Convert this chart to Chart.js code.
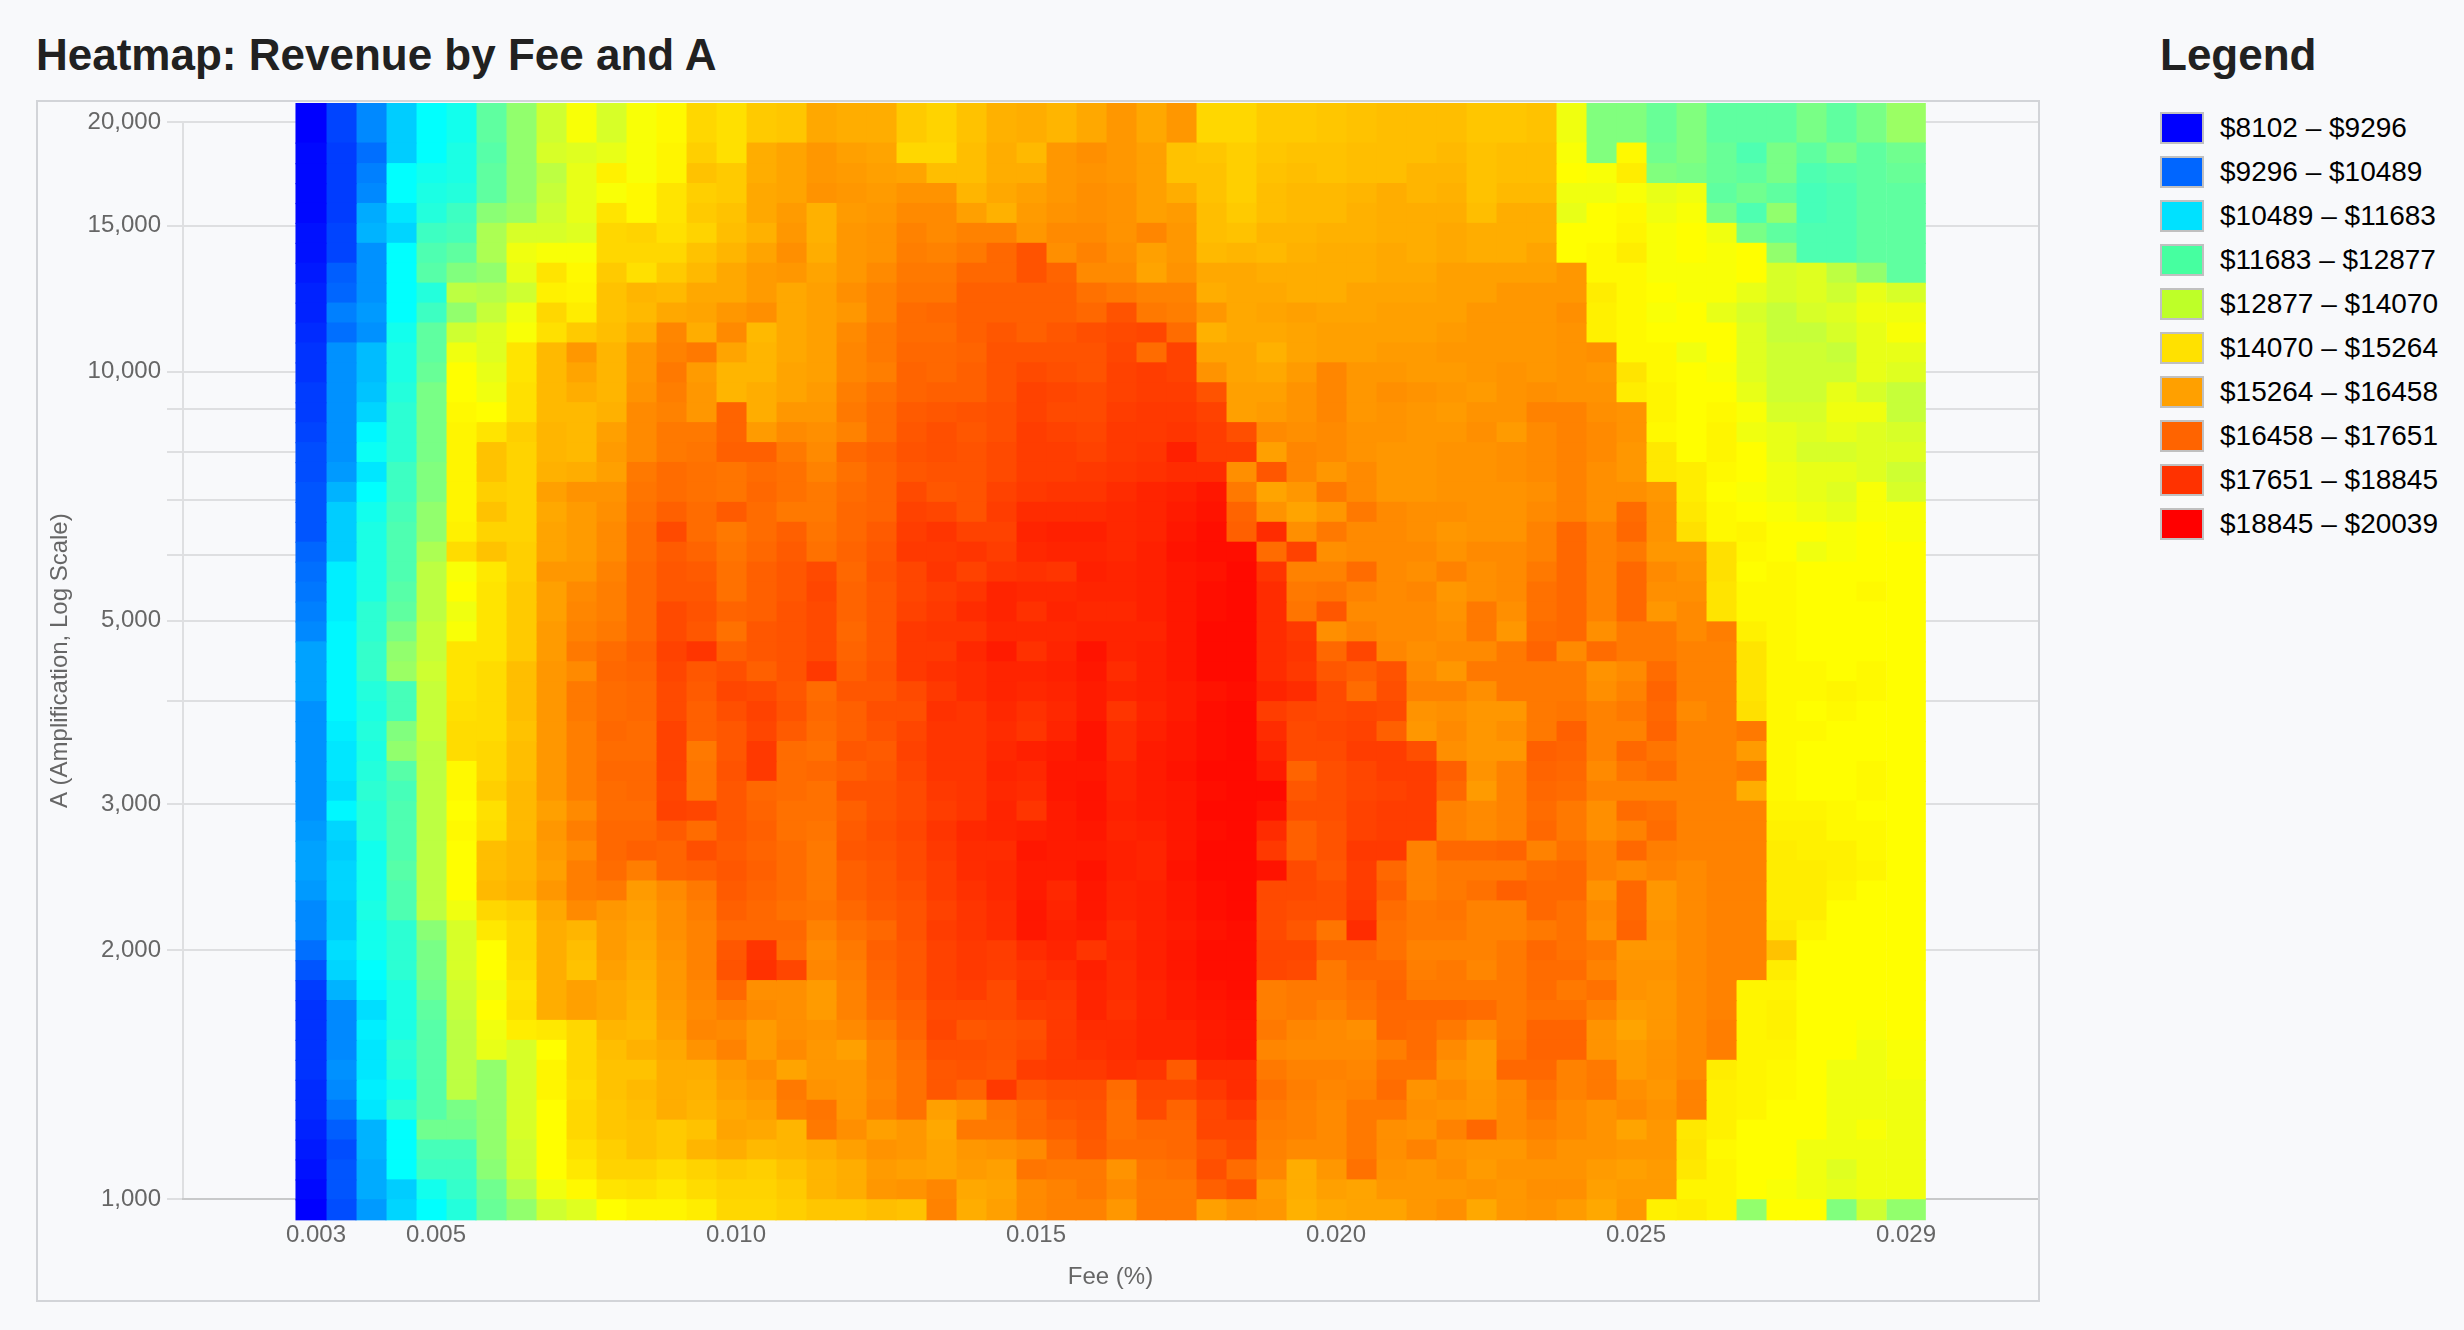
<!DOCTYPE html>
<html>
<head>
<meta charset="utf-8">
<title>Heatmap: Revenue by Fee and A</title>
<script src="https://cdn.jsdelivr.net/npm/chart.js@4"></script>
<style>
  html, body { margin: 0; padding: 0; background: #f8f9fb; font-family: "Liberation Sans", Arial, sans-serif; }
  body { position: relative; width: 2464px; height: 1330px; overflow: hidden; }
  h2 { position: absolute; margin: 0; font-size: 44px; line-height: 50px; font-weight: bold; color: #212121; }
  #title { left: 36px; top: 30px; }
  #legendTitle { left: 2160px; top: 30px; }
  #box { position: absolute; left: 36px; top: 100px; width: 2000px; height: 1198px; border: 2px solid #d2d4d8; }
  #chart { position: absolute; left: 0; top: 0; }
  #legend { position: absolute; left: 2160px; top: 112px; }
  .item { display: flex; align-items: flex-start; height: 44px; font-size: 28px; line-height: 32px; color: #000; white-space: nowrap; }
  .swatch { box-sizing: border-box; width: 44px; height: 32px; border: 2px solid #c0c0c0; margin-right: 16px; }
</style>
</head>
<body>
<h2 id="title">Heatmap: Revenue by Fee and A</h2>
<div id="box"><canvas id="chart" width="2000" height="1198"></canvas></div>
<h2 id="legendTitle">Legend</h2>
<div id="legend"></div>

<script>
// Fee of each column
const fees = [
  0.003, 0.0035, 0.004, 0.0045, 0.005, 0.0055, 0.006, 0.0065, 0.007, 0.0075,
  0.008, 0.0085, 0.009, 0.0095, 0.01, 0.0105, 0.011, 0.0115, 0.012, 0.0125,
  0.013, 0.0135, 0.014, 0.0145, 0.015, 0.0155, 0.016, 0.0165, 0.017, 0.0175,
  0.018, 0.0185, 0.019, 0.0195, 0.02, 0.0205, 0.021, 0.0215, 0.022, 0.0225,
  0.023, 0.0235, 0.024, 0.0245, 0.025, 0.0255, 0.026, 0.0265, 0.027, 0.0275,
  0.028, 0.0285, 0.029, 0.0295
];

// A of each row, top to bottom. The picture has about twice as many rows,
// here each row stands for two of them.
const aValues = [
  20000, 18890, 17871, 16907, 15995, 15132, 14316, 13544, 12813, 12122, 11468,
  10850, 10265, 9711, 9187, 8691, 8223, 7779, 7359, 6962, 6587, 6232, 5895,
  5577, 5277, 4992, 4723, 4468, 4227, 3999, 3783, 3579, 3386, 3204, 3031, 2867,
  2713, 2566, 2428, 2297, 2173, 2056, 1945, 1840, 1741, 1647, 1558, 1474, 1394,
  1319, 1248, 1181, 1117, 1057, 1000
];

// Revenue in hundreds of dollars.
// One line per fee column, top row first.
const revenue = [
  [81, 82,82,82,82,83,83,84,85,85,86,87,87,88,88,89,90,90,91,91,91,93,94,95,96,97,100, 100,100,98,98,98,98,98,98,99,100,100,99,97,97,94,91,88,87,87,87,87,86,86,85,84,83,82,81],
  [89, 88,88,88,88,89,89,92,93,96,94,98,98,98,98,98,98,99,102,105,105,105,109,109,109,110,110, 110,110,110,109,108,108,107,110,106,105,106,106,105,105,107,106,102,97,97,97,98,97,95,92,90,91,91,90],
  [97, 94,96,97,101,102,98,98,98,99,98,103,103,104,106,110,112,108,111,113,114,114,114,114,116,116,117, 117,115,114,115,114,115,116,115,115,113,113,113,114,113,113,111,110,107,109,108,108,109,108,102,102,101,101,99],
  [105, 105,111,111,108,106,111,111,111,111,113,114,114,115,116,116,116,118,118,119,120,120,120,121,122,125,128, 129,119,119,126,128,121,119,120,120,120,121,120,120,116,116,116,114,114,114,116,115,113,116,111,111,111,105,106],
  [111, 111,113,114,115,118,120,121,115,118,122,122,123,125,125,125,125,126,126,128,128,131,133,133,133,134,134, 135,134,134,134,133,133,133,133,133,133,133,133,133,127,125,125,124,122,121,121,121,121,121,124,119,118,113,111],
  [113, 114,114,115,118,119,122,126,133,128,135,139,141,141,142,143,143,143,143,143,144,149,140,141,139,140,147, 147,147,148,149,149,142,142,141,142,141,141,141,139,136,136,136,135,134,133,133,133,133,125,124,119,118,117,115],
  [122, 121,122,122,127,131,131,128,132,134,137,137,138,139,141,147,155,155,152,155,151,155,146,147,147,147,147, 149,149,149,149,150,150,152,148,149,156,156,157,150,146,141,141,139,141,139,138,128,128,128,128,128,127,124,123],
  [128, 128,128,128,129,136,139,138,135,139,140,147,147,148,148,152,151,151,151,151,151,152,152,153,153,153,153, 156,156,156,155,156,156,157,157,157,158,158,159,152,150,150,149,147,148,145,136,136,136,136,136,135,135,132,128],
  [135, 136,133,134,135,136,140,147,144,150,148,157,157,157,157,158,158,159,163,161,162,162,165,163,163,164,164, 165,165,165,165,165,165,165,163,165,164,163,165,161,160,160,160,160,160,146,141,143,143,141,141,141,141,139,135],
  [140, 137,138,138,138,137,140,142,143,145,153,165,162,160,157,157,157,160,166,164,164,164,165,168,169,170,172, 168,172,172,171,171,171,171,168,171,168,171,171,168,158,156,155,163,163,150,150,150,149,150,150,148,146,142,137],
  [136, 138,144,140,147,150,150,153,155,155,156,158,158,158,159,163,164,163,166,167,168,168,170,171,171,172,175, 176,175,175,176,175,176,175,175,176,176,175,172,165,164,164,163,161,161,158,156,155,155,154,154,152,151,147,141],
  [140, 140,140,142,142,151,150,148,158,157,160,165,165,166,168,168,168,172,173,174,175,175,176,176,176,176,178, 177,176,176,175,175,176,176,175,176,178,171,164,163,162,161,160,159,158,157,159,155,157,156,155,155,151,148,143],
  [142, 143,143,147,147,148,150,153,157,161,169,170,172,171,170,172,172,175,175,178,183,179,180,180,183,183,185, 184,183,183,185,185,185,184,185,179,177,177,168,167,167,166,165,165,164,163,161,160,160,160,153,153,149,146,143],
  [150, 152,155,152,153,151,155,157,161,162,160,172,164,165,165,172,173,174,174,175,175,177,179,180,181,180,188, 180,179,178,178,172,173,173,184,175,182,178,172,171,170,170,170,169,168,169,166,160,159,158,155,158,151,149,145],
  [148, 148,153,153,155,156,158,161,161,165,168,162,158,158,177,177,178,173,173,179,172,173,174,174,177,174,178, 182,184,182,180,180,181,180,180,180,179,180,179,178,176,180,181,176,171,168,170,164,163,161,162,160,153,151,150],
  [153, 160,160,161,161,159,162,164,164,167,157,158,158,160,160,164,178,175,176,175,175,176,178,178,178,180,180, 178,183,185,184,187,187,176,177,178,177,178,177,176,176,188,189,167,168,164,164,167,165,163,161,157,152,151,150],
  [154, 162,162,162,164,165,167,165,161,161,161,161,162,162,165,168,172,174,174,172,178,179,180,180,181,181,181, 181,180,181,179,175,175,175,174,174,175,175,175,174,176,175,184,167,167,167,168,162,172,171,158,158,155,153,152],
  [161, 165,165,166,159,159,160,162,163,163,163,163,163,164,165,167,168,170,172,172,173,174,183,184,183,183,183, 187,175,176,175,174,176,174,174,173,172,172,172,173,170,168,169,164,164,166,165,165,166,173,172,160,158,158,154],
  [160, 163,164,165,164,165,165,165,167,165,168,169,169,171,172,170,176,174,175,176,176,177,176,177,177,176,177, 178,180,178,178,180,178,181,178,179,180,178,178,176,174,172,171,170,170,168,163,165,165,165,167,163,160,160,154],
  [160, 162,163,164,165,166,166,168,170,170,172,172,171,174,175,175,178,177,177,177,179,180,181,180,180,180,180, 181,180,182,181,179,180,181,181,182,181,180,180,179,176,178,177,176,175,172,170,170,169,170,163,166,164,165,156],
  [153, 150,162,166,168,170,171,172,173,175,175,176,177,177,179,180,181,180,183,185,186,187,184,184,185,187,187, 187,183,182,184,185,184,183,183,184,183,183,182,181,181,180,180,180,178,177,175,174,174,174,165,165,163,166,155],
  [151, 150,156,166,168,168,170,172,173,176,175,176,176,178,180,182,182,181,180,184,188,187,188,186,187,188,187, 189,187,189,188,188,188,187,186,188,187,186,186,185,186,185,185,185,183,184,182,180,180,163,161,162,162,169,170],
  [155, 156,156,158,163,170,172,176,178,178,178,177,178,178,181,180,181,181,181,181,185,188,185,188,190,188,191, 190,190,188,188,188,188,188,188,191,190,190,189,188,188,187,187,186,183,180,182,181,177,166,172,165,164,161,160],
  [159, 160,160,161,159,170,176,176,178,178,180,181,181,181,182,182,183,183,185,186,185,186,188,192,192,191,194, 192,192,191,190,191,192,191,192,192,190,191,191,190,190,186,186,183,183,181,181,180,187,173,172,166,163,162,163],
  [160, 157,160,163,164,165,181,181,178,178,178,181,183,185,185,186,186,186,187,190,192,191,189,191,189,191,189, 192,191,189,188,193,191,190,188,193,195,194,194,195,195,190,188,189,186,182,183,186,180,176,176,168,173,168,168],
  [158, 165,165,165,166,168,167,177,178,178,180,181,182,184,183,185,186,186,188,190,193,192,188,191,192,191,192, 193,192,191,192,194,195,195,194,194,194,194,191,192,193,192,190,188,187,187,187,187,182,180,178,175,172,170,170],
  [161, 167,166,167,167,168,170,168,174,176,182,181,181,183,183,184,185,187,188,190,193,192,193,192,191,192,196, 195,194,194,196,196,195,196,196,195,194,196,195,195,194,188,193,192,192,190,189,187,182,181,180,179,172,172,170],
  [165, 165,165,166,166,166,167,168,172,181,183,184,185,185,186,187,187,188,190,191,191,191,192,192,191,192,192, 190,192,188,190,190,192,192,193,192,193,193,192,192,190,191,190,190,189,190,190,189,175,174,174,175,166,168,165],
  [161, 163,163,163,163,169,163,162,170,172,184,175,186,186,187,187,188,189,192,192,192,193,193,193,193,192,193, 193,193,192,193,194,194,194,194,193,192,192,193,193,193,193,193,192,192,192,192,188,184,183,176,175,173,172,172],
  [165, 155,155,160,164,165,165,166,170,171,175,185,185,186,187,188,193,190,193,194,195,196,195,195,195,195,195, 195,194,194,195,195,196,195,195,195,195,196,195,195,194,195,195,194,194,192,192,179,184,177,176,176,174,172,172],
  [150, 154,155,155,156,156,157,161,160,165,159,162,166,181,185,186,186,190,195,196,197,197,196,197,197,198,198, 198,196,197,197,197,198,197,198,197,198,198,197,197,196,197,197,196,195,194,194,190,187,184,184,180,182,178,163],
  [150, 152,152,152,153,155,158,161,161,161,161,162,162,163,163,182,186,167,172,177,178,197,198,198,198,198,198, 198,197,198,198,198,198,198,198,198,198,198,198,198,197,197,197,197,196,195,195,190,190,187,184,183,175,181,166],
  [153, 154,155,156,156,158,157,160,161,162,161,159,161,163,164,168,163,180,162,166,190,175,188,190,190,190,190, 190,192,186,190,192,194,198,196,190,187,196,183,183,183,184,184,171,171,172,169,172,174,172,171,170,169,164,165],
  [153, 155,156,157,157,158,159,160,160,163,162,162,164,166,166,167,169,169,165,162,167,185,170,172,173,187,188, 187,190,184,183,183,177,180,182,178,178,183,183,182,180,184,183,172,172,169,168,170,171,170,170,168,160,160,159],
  [154, 155,155,157,157,159,160,160,160,162,163,163,169,169,169,168,168,165,172,165,172,167,170,173,180,167,176, 180,183,183,184,183,182,182,182,181,181,180,182,182,173,177,172,172,170,168,168,170,169,168,168,168,165,163,161],
  [155, 156,156,158,159,159,160,160,162,162,163,163,165,165,165,166,166,168,168,172,168,168,175,170,168,170,184, 178,175,184,185,186,184,184,185,185,187,186,186,187,190,177,176,174,173,167,168,169,170,172,172,172,174,162,162],
  [156, 156,156,160,160,160,161,161,162,163,163,164,165,167,166,166,165,165,165,168,168,168,168,168,168,168,169, 181,182,183,178,186,186,185,186,186,187,176,178,175,174,174,176,177,176,176,171,174,175,172,167,167,166,165,162],
  [156, 156,158,158,160,160,160,161,162,163,163,164,164,166,165,165,165,165,165,167,167,168,167,169,168,168,167, 168,170,166,165,182,186,186,186,186,170,170,170,172,172,170,171,172,176,175,175,174,166,167,166,170,165,165,165],
  [156, 157,158,159,160,161,161,163,163,163,164,165,164,165,164,165,166,166,166,167,165,166,170,165,166,167,168, 165,170,167,168,167,178,176,170,170,176,172,172,173,172,170,172,172,176,172,168,166,168,166,170,166,167,165,167],
  [154, 155,155,155,156,160,160,163,163,165,165,165,165,164,166,167,166,166,166,166,166,168,167,167,172,172,168, 172,167,165,165,165,166,164,168,168,176,172,174,170,170,170,169,172,175,168,164,164,165,165,176,165,164,166,161],
  [154, 156,156,157,160,160,160,163,165,165,165,165,166,166,166,164,167,167,166,166,166,168,168,168,167,165,172, 172,172,165,167,165,170,170,170,170,177,172,178,170,170,172,172,172,172,172,173,176,168,168,168,165,166,165,165],
  [155, 156,156,157,160,160,162,163,165,165,165,165,165,167,170,168,168,168,167,168,170,170,172,174,174,175,177, 172,172,172,172,178,177,176,175,176,170,175,176,176,172,176,175,175,174,177,177,176,174,172,170,168,166,167,166],
  [139, 140,141,139,138,141,141,165,165,167,166,166,166,166,170,170,170,170,170,170,176,176,176,176,176,176,168, 172,172,173,178,177,176,175,172,172,174,176,176,174,174,174,175,172,174,177,177,170,170,168,168,166,166,167,164],
  [126, 126,140,139,141,141,142,142,145,144,144,167,165,166,167,168,168,167,167,167,170,170,170,170,170,167,175, 166,167,170,170,170,168,170,167,167,170,170,166,168,167,172,170,174,170,166,166,172,172,166,166,166,164,163,161],
  [126, 142,145,140,142,143,145,142,142,142,142,142,147,145,166,166,165,165,167,175,176,172,176,176,176,172,172, 168,170,172,170,176,173,170,175,170,176,168,176,176,177,165,166,166,164,162,164,164,167,168,162,165,163,164,165],
  [123, 124,126,138,139,140,140,140,141,140,141,142,142,143,143,142,146,146,165,166,166,165,168,167,165,172,172, 175,177,176,177,173,175,170,174,175,171,170,165,165,166,165,166,165,165,165,166,166,165,166,165,165,164,164,144],
  [126, 126,125,139,140,141,141,140,140,141,141,139,141,141,141,141,141,145,145,146,148,165,166,167,168,168,170, 170,170,168,170,170,170,170,170,170,170,168,168,168,168,168,168,168,168,168,168,168,170,170,146,147,146,143,145],
  [122, 123,123,122,125,139,140,140,140,138,141,141,140,141,142,143,143,142,141,142,142,148,148,147,147,171,170, 170,170,170,170,170,170,170,170,170,170,170,170,170,170,170,170,170,170,171,171,145,144,144,144,142,143,143,143],
  [122, 120,122,124,120,125,141,141,138,136,137,137,137,138,140,139,141,141,140,141,143,142,141,142,142,144,147, 147,147,148,172,164,172,160,170,170,170,170,170,170,170,170,170,143,143,143,143,143,143,143,141,141,141,141,128],
  [122, 125,125,122,128,122,128,136,136,134,134,135,135,135,136,138,138,139,139,140,141,141,142,142,142,142,142, 142,142,142,142,142,142,142,143,144,145,145,145,145,146,155,145,143,144,144,143,142,142,141,141,141,141,140,141],
  [125, 122,120,119,119,120,120,137,137,136,134,135,135,135,136,137,136,138,138,139,141,139,141,141,141,141,141, 142,142,141,142,141,141,141,143,144,144,145,145,145,143,141,141,141,141,141,141,141,141,141,141,139,139,139,141],
  [122, 125,121,120,120,120,120,133,135,137,136,134,135,138,139,138,136,138,137,138,140,140,141,141,141,141,141, 141,143,142,141,141,141,141,142,142,144,144,143,141,141,141,141,141,141,141,141,139,139,139,139,139,137,138,126],
  [125, 122,122,122,122,122,122,128,138,139,138,138,138,136,139,137,137,137,140,140,141,141,141,142,141,141,141, 142,142,141,141,141,142,142,141,142,142,143,141,141,141,141,141,141,141,140,139,139,139,139,140,139,139,139,135],
  [129, 124,123,122,122,122,122,122,136,139,140,138,137,134,134,136,137,135,136,140,140,141,141,141,141,141,141, 141,141,141,141,141,141,141,141,141,141,141,141,141,141,141,141,141,141,141,140,140,139,139,139,139,139,139,128]
];

// Ticks on the x axis. The last column is labelled 0.029 in the picture.
const xTickValues = [0.003, 0.005, 0.01, 0.015, 0.02, 0.025, 0.0295];
const xTickLabels = ["0.003", "0.005", "0.010", "0.015", "0.020", "0.025", "0.029"];

// Legend
const legendLabels = [
  "$8102 – $9296", "$9296 – $10489", "$10489 – $11683", "$11683 – $12877", "$12877 – $14070",
  "$14070 – $15264", "$15264 – $16458", "$16458 – $17651", "$17651 – $18845", "$18845 – $20039"
];
const legendColors = [
  "#0000ff", "#0066ff", "#00e1ff", "#46ffa0", "#beff28",
  "#ffe100", "#ffa000", "#ff6400", "#ff3200", "#ff0000"
];

const revenueMin = 8102;
const revenueMax = 20039;

// Blue to cyan to yellow to red
function heatColor(hundreds) {
  const t = Math.min(1, Math.max(0, (hundreds * 100 - revenueMin) / (revenueMax - revenueMin)));
  let r, g, b;
  if (t < 0.25) {
    r = 0; g = t / 0.25; b = 1;
  } else if (t < 0.5) {
    r = (t - 0.25) / 0.25; g = 1; b = 1 - r;
  } else {
    r = 1; g = 1 - (t - 0.5) / 0.5; b = 0;
  }
  return `rgb(${Math.round(r * 255)},${Math.round(g * 255)},${Math.round(b * 255)})`;
}

// Cells sit a little below and left of their tick in the picture
const rowShift = 0.9432;
const rowOverlap = 1.0015;
const topEdge = 21086;
const columnShift = 0.0000833;

function rowRange(r) {
  const low = aValues[r] * rowShift;
  const high = r === 0 ? topEdge : aValues[r - 1] * rowShift * rowOverlap;
  return [low, high];
}

const datasets = fees.map((fee, c) => {
  const last = c === fees.length - 1;
  return {
    label: String(fee),
    data: aValues.map((a, r) => ({ x: last ? fee : fee - columnShift, y: rowRange(r) })),
    backgroundColor: revenue[c].map(heatColor),
    barThickness: last ? 39 : 30.4,
    borderWidth: 0,
    grouped: false,
    clip: false
  };
});

const tickFont = { family: "Liberation Sans", size: 24 };

new Chart(document.getElementById("chart"), {
  type: "bar",
  data: { datasets: datasets },
  options: {
    responsive: false,
    animation: false,
    devicePixelRatio: 1,
    layout: { padding: { top: 19, left: 0, right: 0, bottom: 0 } },
    plugins: { legend: { display: false }, tooltip: { enabled: false } },
    scales: {
      x: {
        type: "linear",
        offset: false,
        min: 0.00078333,
        max: 0.0317,
        grid: { display: false, tickLength: 16 },
        border: { width: 2 },
        afterBuildTicks: scale => { scale.ticks = xTickValues.map(v => ({ value: v })); },
        afterFit: scale => { scale.height = 101; },
        ticks: {
          autoSkip: false,
          maxRotation: 0,
          padding: 6,
          color: "#666",
          font: tickFont,
          callback: (value, i) => xTickLabels[i]
        },
        title: { display: true, text: "Fee (%)", color: "#666", font: tickFont, padding: { top: 8, bottom: 8 } }
      },
      y: {
        type: "logarithmic",
        min: 1000,
        max: 20000,
        grid: { lineWidth: 2, tickLength: 16 },
        border: { width: 2 },
        afterFit: scale => { scale.width = 145; },
        ticks: { padding: 6, color: "#666", font: tickFont },
        title: { display: true, text: "A (Amplification, Log Scale)", color: "#666", font: tickFont, padding: { top: 8, bottom: 8 } }
      }
    }
  }
});

// Legend list
const legend = document.getElementById("legend");
legendLabels.forEach((text, i) => {
  const item = document.createElement("div");
  item.className = "item";
  const swatch = document.createElement("div");
  swatch.className = "swatch";
  swatch.style.background = legendColors[i];
  item.appendChild(swatch);
  item.appendChild(document.createTextNode(text));
  legend.appendChild(item);
});
</script>
</body>
</html>
